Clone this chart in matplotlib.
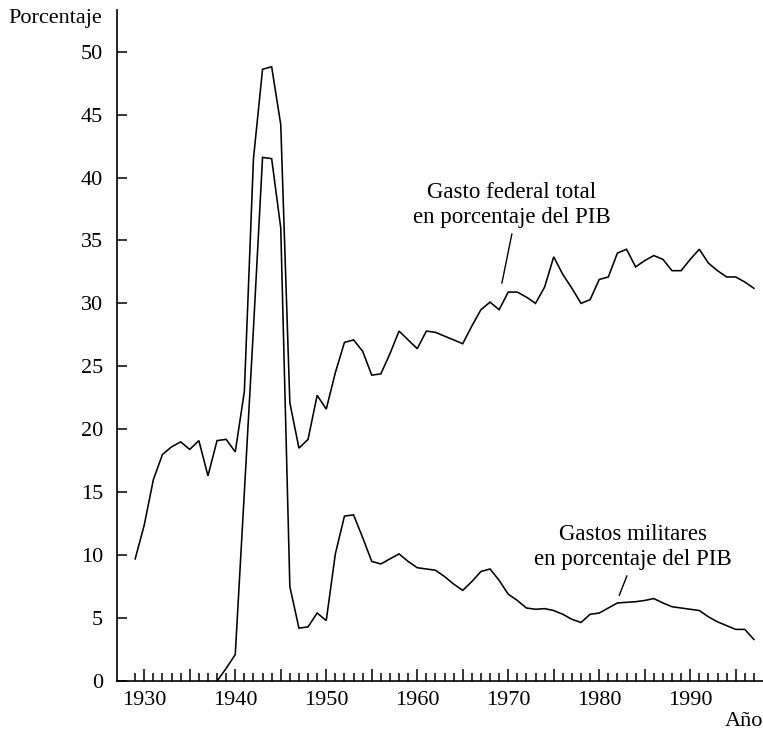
import matplotlib
matplotlib.use("Agg")
import matplotlib.pyplot as plt
from matplotlib.ticker import FixedLocator, NullFormatter, FixedFormatter

plt.rcParams['font.family'] = ['Liberation Serif', 'DejaVu Serif']

# Gasto federal total en porcentaje del PIB
years_total = list(range(1929, 1998))
total = [9.7, 12.4, 16.0, 18.0, 18.6, 19.0, 18.4, 19.1, 16.3, 19.1,
         19.2, 18.2, 23.0, 41.5, 48.6, 48.8, 44.2, 22.1, 18.5, 19.2,
         22.7, 21.6, 24.5, 26.9, 27.1, 26.2, 24.3, 24.4, 26.0, 27.8,
         27.1, 26.4, 27.8, 27.7, 27.4, 27.1, 26.8, 28.2, 29.5, 30.1,
         29.5, 30.9, 30.9, 30.5, 30.0, 31.3, 33.7, 32.3, 31.2, 30.0,
         30.3, 31.9, 32.1, 34.0, 34.3, 32.9, 33.4, 33.8, 33.5, 32.6,
         32.6, 33.5, 34.3, 33.2, 32.6, 32.1, 32.1, 31.7, 31.2]

# Gastos militares en porcentaje del PIB
years_mil = list(range(1938, 1998))
military = [0.0, 1.0, 2.1, 15.0, 28.0, 41.6, 41.5, 36.0, 7.5, 4.2,
            4.3, 5.4, 4.8, 10.1, 13.1, 13.2, 11.4, 9.5, 9.3, 9.7,
            10.1, 9.5, 9.0, 8.9, 8.8, 8.3, 7.7, 7.2, 7.9, 8.7,
            8.9, 8.0, 6.9, 6.4, 5.8, 5.7, 5.75, 5.6, 5.3, 4.9,
            4.65, 5.3, 5.4, 5.8, 6.2, 6.25, 6.3, 6.4, 6.55, 6.2,
            5.9, 5.8, 5.7, 5.6, 5.1, 4.7, 4.4, 4.1, 4.1, 3.3]

y_ticks = [0, 5, 10, 15, 20, 25, 30, 35, 40, 45, 50]
x_major = list(range(1930, 1996, 5))
x_labels = [str(y) if y % 10 == 0 else "" for y in x_major]
x_minor = [y for y in range(1929, 1998) if y % 5 != 0]

fig = plt.figure(figsize=(7.63, 7.34), dpi=100)
ax = fig.add_axes([0.1533, 0.0722, 0.8467, 0.914])

ax.plot(years_total, total, color='black', lw=1.15, solid_joinstyle='miter')
ax.plot(years_mil, military, color='black', lw=1.15, solid_joinstyle='miter')

ax.set_xlim(1927.0, 1998.0)
ax.set_ylim(0, 53.3)

for s in ['top', 'right']:
    ax.spines[s].set_visible(False)
for s in ['left', 'bottom']:
    ax.spines[s].set_linewidth(1.2)

ax.yaxis.set_major_locator(FixedLocator(y_ticks))
ax.xaxis.set_major_locator(FixedLocator(x_major))
ax.xaxis.set_major_formatter(FixedFormatter(x_labels))
ax.xaxis.set_minor_locator(FixedLocator(x_minor))
ax.xaxis.set_minor_formatter(NullFormatter())

ax.tick_params(axis='y', direction='in', length=7, width=1.1, pad=10, labelsize=16)
ax.tick_params(axis='x', which='major', direction='in', length=9, width=1.1, pad=7, labelsize=16)
ax.tick_params(axis='x', which='minor', direction='in', length=5.5, width=1.1)

fs = 16.5
fig.text(102 / 763, 1 - 18 / 734, "Porcentaje", ha='right', va='center', fontsize=16)
fig.text(763 / 763, 1 - 722 / 734, "Año", ha='right', va='center', fontsize=16)

ax.annotate("Gasto federal total\nen porcentaje del PIB",
            xy=(1969.3, 31.6), xycoords='data',
            xytext=(512, 734 - 205), textcoords='figure pixels',
            ha='center', va='center', fontsize=fs, linespacing=1.3,
            arrowprops=dict(arrowstyle='-', color='black', lw=1.0,
                            shrinkA=2, shrinkB=0, relpos=(0.505, 0)))
ax.annotate("Gastos militares\nen porcentaje del PIB",
            xy=(1982.2, 6.8), xycoords='data',
            xytext=(633, 734 - 547), textcoords='figure pixels',
            ha='center', va='center', fontsize=fs, linespacing=1.3,
            arrowprops=dict(arrowstyle='-', color='black', lw=1.0,
                            shrinkA=2, shrinkB=0, relpos=(0.48, 0)))

fig.savefig("out.png", dpi=100)
